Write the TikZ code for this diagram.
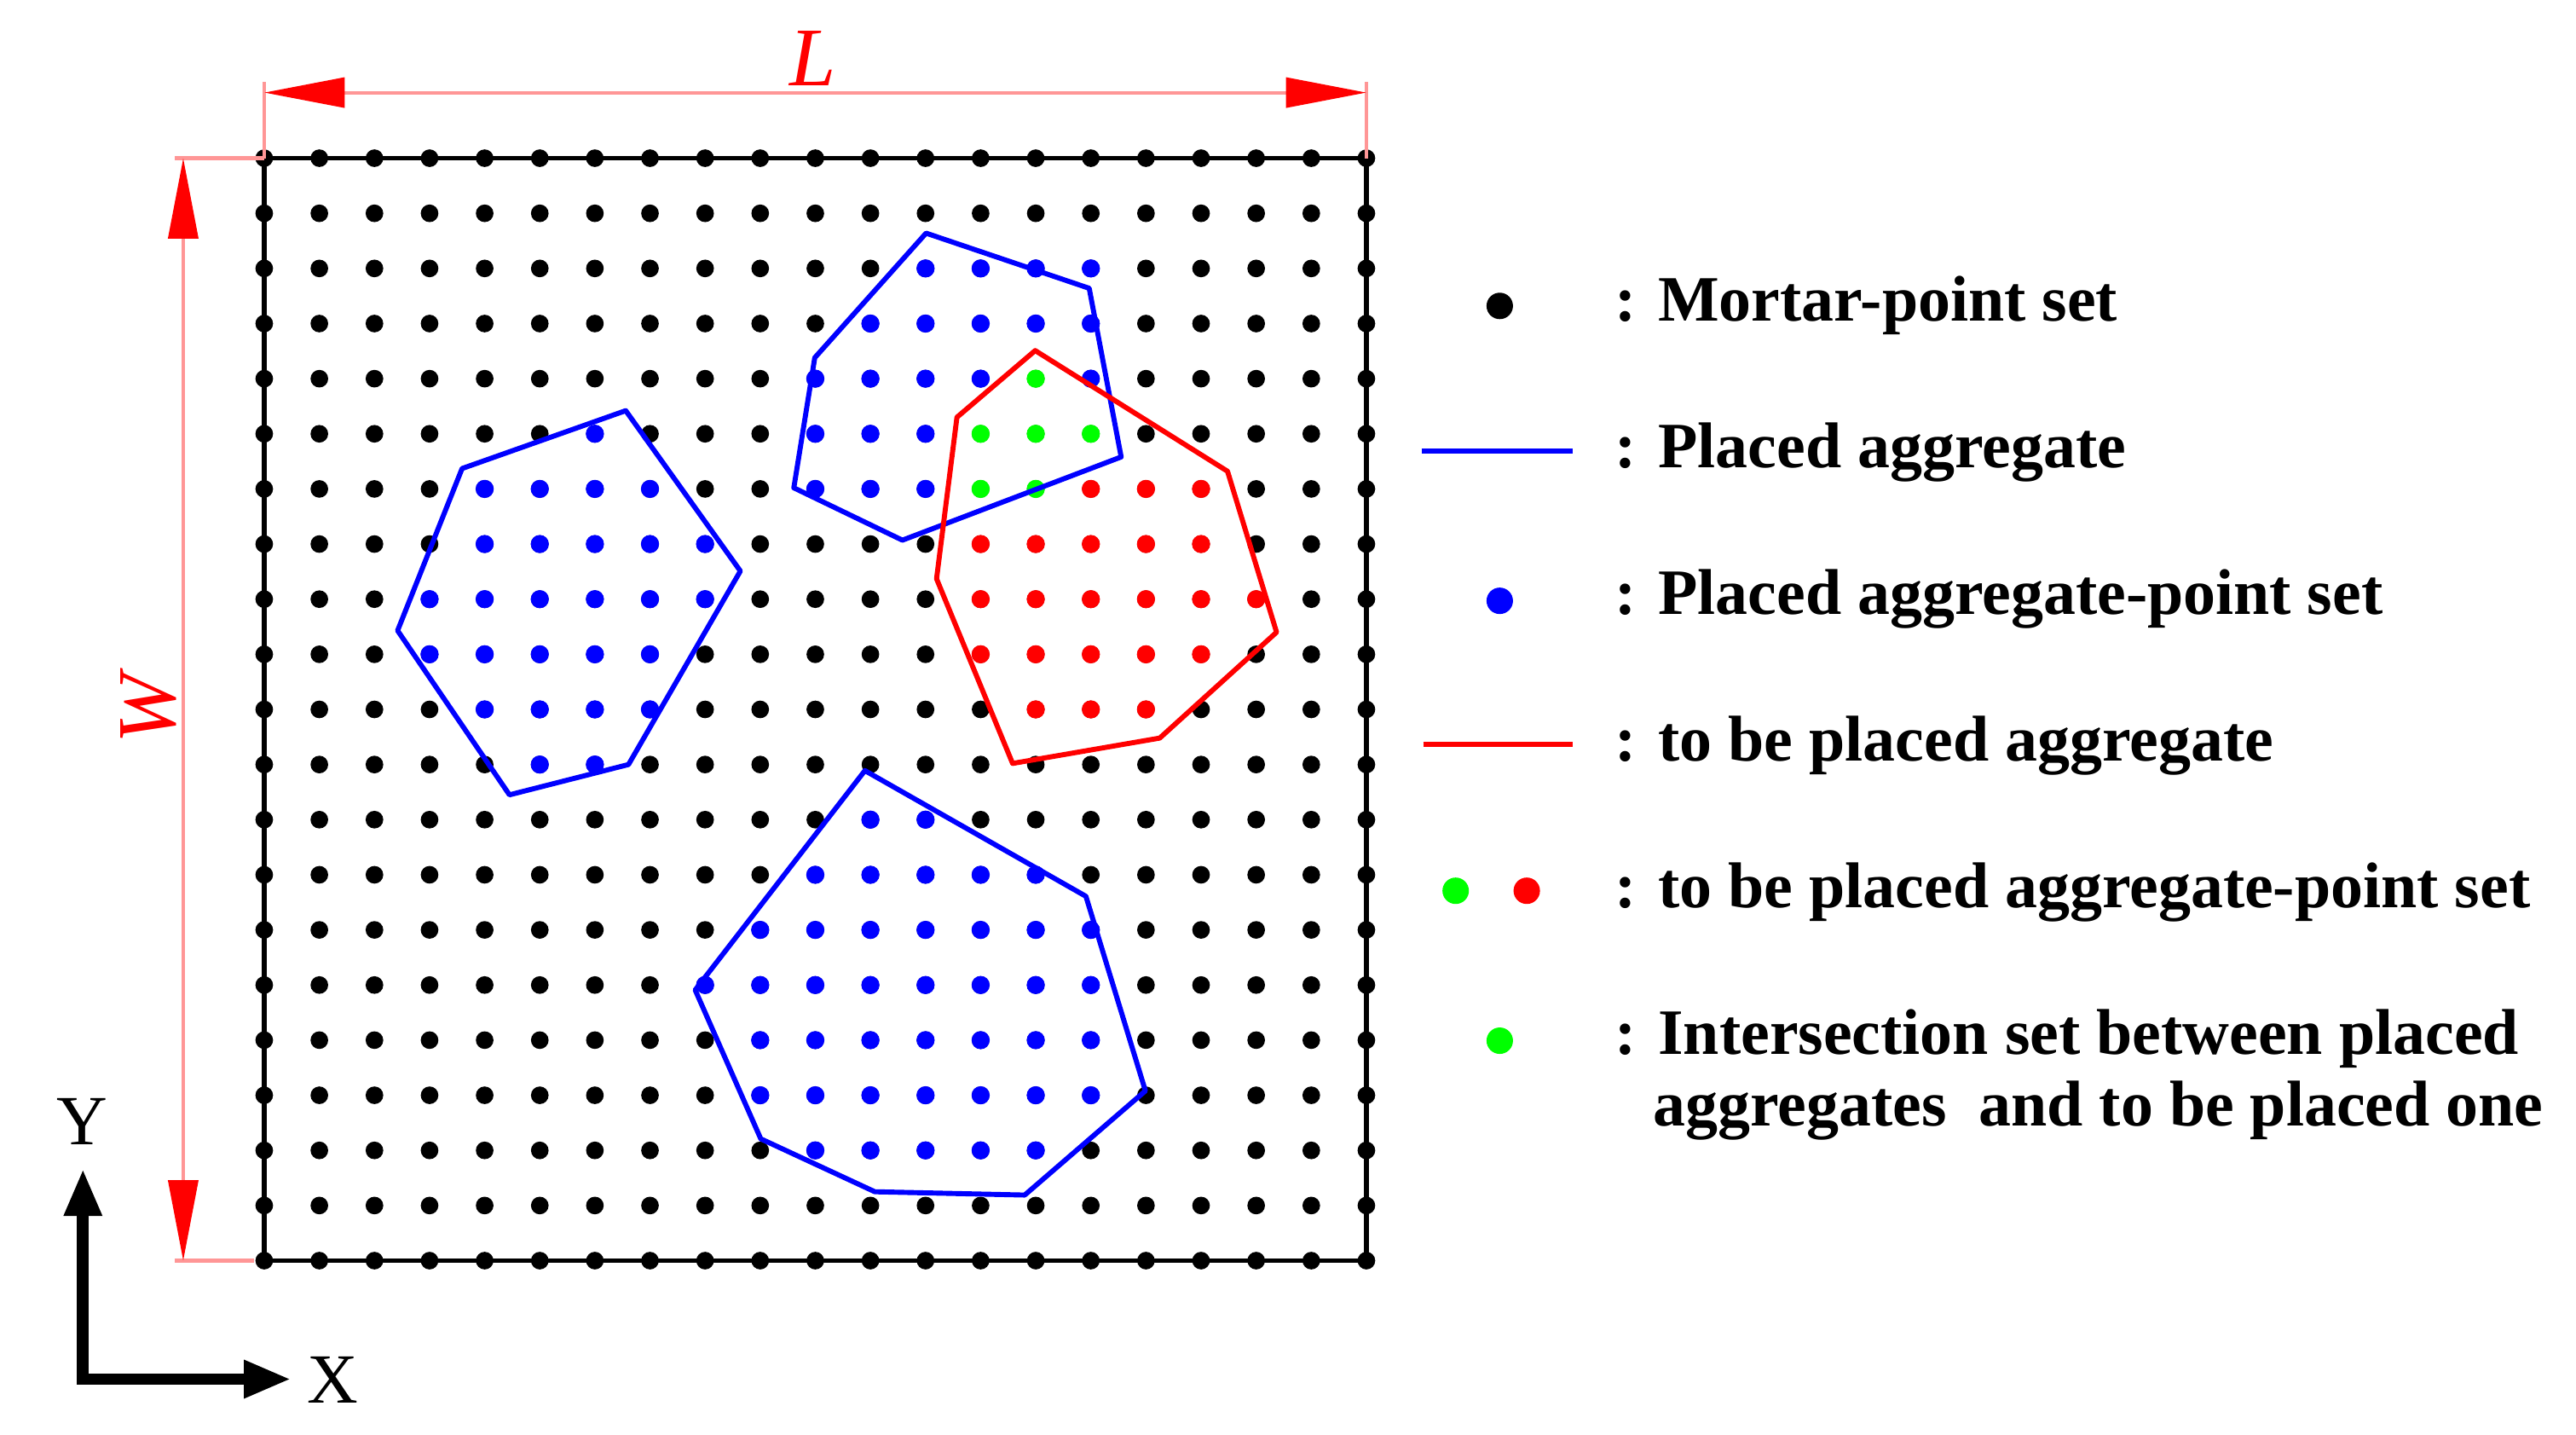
\documentclass[tikz,border=0pt]{standalone}
\usepackage{fontspec}
\setmainfont{Liberation Serif}
\usetikzlibrary{arrows.meta}
\definecolor{dimred}{RGB}{255,150,150}

\begin{document}
\begin{tikzpicture}[x=5mm, y=5mm,
    aggline/.style={line width=1.3pt, line join=round},
    dimline/.style={dimred, line width=0.9pt},
    dimtip/.tip={Triangle[length=7.3mm, width=2.7mm, red]},
    axtip/.tip={Triangle[length=4.3mm, width=3.2mm]},
    legtext/.style={anchor=base west, inner sep=0pt, font=\fontsize{16.7}{20}\selectfont\bfseries},
    dimlabel/.style={inner sep=0pt, text=red, font=\fontsize{21.5}{24}\selectfont\itshape}]
    \useasboundingbox (-4.795,-3.148) rectangle (41.95,22.87);

    \draw[line width=1.2pt] (0,0) rectangle (20,20);
    \foreach \i in {0,...,20}
        \foreach \j in {0,...,20}
            \fill (\i,\j) circle (0.16);

    \foreach \j/\a/\b in {15/6/6, 14/4/7, 13/4/8, 12/3/8, 11/3/7, 10/4/7, 9/5/6,
                          18/12/15, 17/11/15, 16/10/13, 15/10/12, 14/10/12, 16/15/15,
                          8/11/12, 7/10/14, 6/9/15, 5/8/15, 4/9/15, 3/9/15, 2/10/14}
        \foreach \i in {\a,...,\b}
            \fill[blue] (\i,\j) circle (0.165);
    \foreach \j/\a/\b in {14/15/17, 13/13/17, 12/13/18, 11/13/17, 10/14/16}
        \foreach \i in {\a,...,\b}
            \fill[red] (\i,\j) circle (0.165);
    \foreach \i/\j in {14/16, 13/15, 14/15, 15/15, 13/14, 14/14}
        \fill[green] (\i,\j) circle (0.165);

    \draw[blue, aggline] (3.59,14.37) -- (6.56,15.42) -- (8.64,12.51) -- (6.61,9.00) -- (4.45,8.45) -- (2.42,11.43) -- cycle;
    \draw[blue, aggline] (12.01,18.64) -- (14.97,17.64) -- (15.55,14.58) -- (11.58,13.07) -- (9.61,14.02) -- (9.99,16.38) -- cycle;
    \draw[blue, aggline] (10.90,8.89) -- (14.91,6.61) -- (15.99,3.08) -- (13.80,1.19) -- (11.08,1.25) -- (9.01,2.21) -- (7.82,4.91) -- cycle;
    \draw[red, aggline] (13.99,16.51) -- (17.48,14.32) -- (18.37,11.40) -- (16.25,9.48) -- (13.58,9.02) -- (12.20,12.37) -- (12.57,15.30) -- cycle;

    \coordinate (Lleft) at (0,21.19);
    \coordinate (Lright) at (20,21.19);
    \coordinate (Wtop) at (-1.47,20);
    \coordinate (Wbot) at (-1.47,0);
    \draw[dimline] (0,20) -- (0,21.38);
    \draw[dimline] (20,20) -- (20,21.38);
    \draw[dimline] (-1.62,20) -- (0,20);
    \draw[dimline] (-1.62,0) -- (-0.19,0);
    \draw[dimline, dimtip-dimtip] (Lleft) -- (Lright);
    \draw[dimline, dimtip-dimtip] (Wtop) -- (Wbot);
    \node[dimlabel, anchor=base] (Llab) at (9.95,21.32) {L};
    \node[dimlabel, anchor=base, rotate=90] (Wlab) at (-1.62,10) {W};

    \coordinate (origin) at (-3.29,-2.15);
    \coordinate (ytip) at (-3.29,1.67);
    \coordinate (xtip) at (0.49,-2.15);
    \draw[line width=3pt, axtip-axtip] (ytip) -- (origin) -- (xtip);
    \node[font=\fontsize{18.2}{20}\selectfont] (ylab) at (-3.30,2.53) {Y};
    \node[font=\fontsize{18.2}{20}\selectfont] (xlab) at (1.24,-2.16) {X};

    \fill (22.42,17.32) circle (0.24);
    \node[legtext] (leg1) at (24.50,17.05) {: Mortar-point set};
    \draw[blue, line width=1.3pt] (21.00,14.69) -- (23.74,14.69);
    \node[legtext] (leg2) at (24.50,14.39) {: Placed aggregate};
    \fill[blue] (22.42,11.97) circle (0.24);
    \node[legtext] (leg3) at (24.50,11.73) {: Placed aggregate-point set};
    \draw[red, line width=1.3pt] (21.03,9.36) -- (23.74,9.36);
    \node[legtext] (leg4) at (24.50,9.07) {: to be placed aggregate};
    \fill[green] (21.62,6.71) circle (0.24);
    \fill[red] (22.91,6.71) circle (0.24);
    \node[legtext] (leg5) at (24.50,6.40) {: to be placed aggregate-point set};
    \fill[green] (22.42,3.99) circle (0.24);
    \node[legtext] (leg6) at (24.50,3.74) {: Intersection set between placed};
    \node[legtext] (leg7) at (25.19,2.44) {aggregates\ \ and to be placed one};
\end{tikzpicture}
\end{document}
